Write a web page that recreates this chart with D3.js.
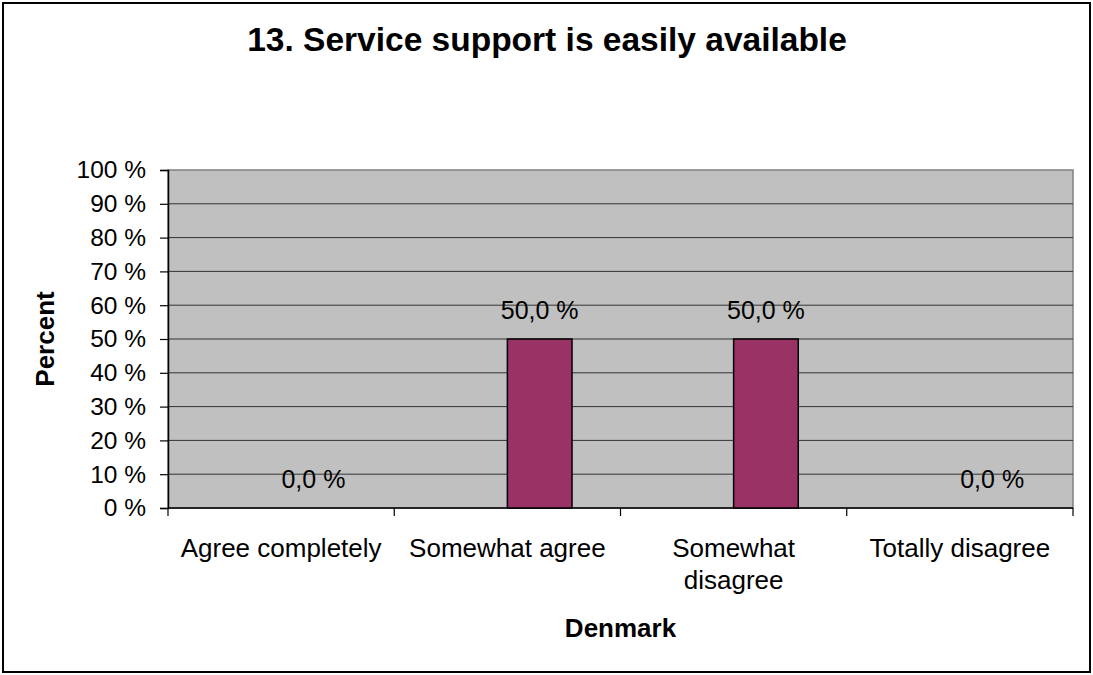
<!DOCTYPE html>
<html>
<head>
<meta charset="utf-8">
<script src="https://cdn.jsdelivr.net/npm/d3@7"></script>
<style>
  html, body { margin: 0; padding: 0; background: #fff; }
  svg { display: block; font-family: "Liberation Sans", Arial, sans-serif; }
</style>
</head>
<body>
<svg id="chart"></svg>
<script>
// Excel-style bar chart: Denmark answers

const width = 1093, height = 675;
const margin = { top: 170, right: 20, bottom: 167, left: 168 };
const innerWidth  = width  - margin.left - margin.right;
const innerHeight = height - margin.top  - margin.bottom;

const categories = ["Agree completely", "Somewhat agree", "Somewhat disagree", "Totally disagree"];
const categoryLines = [["Agree completely"], ["Somewhat agree"], ["Somewhat", "disagree"], ["Totally disagree"]];
// Two series slots, the first one is empty in the original workbook
const seriesNames = ["", "Denmark"];
const denmarkValues = [0, 50, 50, 0];
const yTicks = [0, 10, 20, 30, 40, 50, 60, 70, 80, 90, 100];

const title = "13. Service support is easily available";
const xTitle = "Denmark";
const yTitle = "Percent";

const svg = d3.select("#chart")
  .attr("width", width)
  .attr("height", height);

// outer frame
svg.append("rect")
  .attr("x", 3).attr("y", 3)
  .attr("width", width - 6).attr("height", height - 6)
  .attr("fill", "#fff")
  .attr("stroke", "#000")
  .attr("stroke-width", 2);

const g = svg.append("g")
  .attr("transform", `translate(${margin.left},${margin.top})`);

const x = d3.scaleBand()
  .domain(categories)
  .range([0, innerWidth])
  .padding(0);

const xs = d3.scaleBand()
  .domain(seriesNames)
  .range([0, x.bandwidth()])
  .paddingInner(0)
  .paddingOuter(0.75);

const y = d3.scaleLinear()
  .domain([0, 100])
  .range([innerHeight, 0]);

// plot area
g.append("rect")
  .attr("width", innerWidth)
  .attr("height", innerHeight)
  .attr("fill", "#c0c0c0")
  .attr("stroke", "#808080")
  .attr("stroke-width", 1.5);

// gridlines
g.selectAll(".grid")
  .data(yTicks.filter(d => d > 0 && d < 100))
  .join("line")
  .attr("x1", 0).attr("x2", innerWidth)
  .attr("y1", d => y(d)).attr("y2", d => y(d))
  .attr("stroke", "#333")
  .attr("stroke-width", 1);

// y axis
const yAxis = g.append("g")
  .call(d3.axisLeft(y).tickValues(yTicks).tickSize(8).tickPadding(14).tickFormat(d => d + " %"));
yAxis.select(".domain").attr("stroke", "#000").attr("stroke-width", 1.5);
yAxis.selectAll(".tick line").attr("stroke", "#000").attr("stroke-width", 1.2);
yAxis.selectAll("text")
  .attr("font-size", 24.5)
  .attr("font-family", "Liberation Sans, Arial, sans-serif")
  .attr("fill", "#000");

// x axis
const xAxisG = g.append("g").attr("transform", `translate(0,${innerHeight})`);
xAxisG.append("line")
  .attr("x1", 0).attr("x2", innerWidth)
  .attr("stroke", "#000").attr("stroke-width", 1.5);
const xTickPos = categories.map(c => x(c)).concat([innerWidth]);
xAxisG.selectAll(".xtick")
  .data(xTickPos)
  .join("line")
  .attr("x1", d => d).attr("x2", d => d)
  .attr("y1", 0).attr("y2", 8)
  .attr("stroke", "#000").attr("stroke-width", 1.2);

xAxisG.selectAll(".xlabel")
  .data(categories)
  .join("text")
  .attr("x", d => x(d) + x.bandwidth() / 2)
  .attr("y", 49)
  .attr("text-anchor", "middle")
  .attr("font-size", 26)
  .attr("fill", "#000")
  .each(function(d, i) {
    d3.select(this).selectAll("tspan")
      .data(categoryLines[i])
      .join("tspan")
      .attr("x", x(d) + x.bandwidth() / 2)
      .attr("dy", (t, j) => j === 0 ? 0 : 32)
      .text(t => t);
  });

// bars
g.selectAll(".bar")
  .data(denmarkValues)
  .join("rect")
  .attr("x", (d, i) => x(categories[i]) + xs("Denmark"))
  .attr("y", d => y(d))
  .attr("width", xs.bandwidth())
  .attr("height", d => innerHeight - y(d))
  .attr("fill", "#993366")
  .attr("stroke", "#000")
  .attr("stroke-width", 1.5);

// value labels
g.selectAll(".vlabel")
  .data(denmarkValues)
  .join("text")
  .attr("x", (d, i) => x(categories[i]) + xs("Denmark") + xs.bandwidth() / 2)
  .attr("y", d => y(d) - 20)
  .attr("text-anchor", "middle")
  .attr("font-size", 25)
  .attr("fill", "#000")
  .text(d => d.toFixed(1).replace(".", ",") + " %");

// titles
svg.append("text")
  .attr("x", 547).attr("y", 51)
  .attr("text-anchor", "middle")
  .attr("font-size", 33.5)
  .attr("font-weight", "bold")
  .text(title);

svg.append("text")
  .attr("x", margin.left + innerWidth / 2).attr("y", 637)
  .attr("text-anchor", "middle")
  .attr("font-size", 26)
  .attr("font-weight", "bold")
  .text(xTitle);

svg.append("text")
  .attr("transform", `translate(54,${margin.top + innerHeight / 2}) rotate(-90)`)
  .attr("text-anchor", "middle")
  .attr("font-size", 26)
  .attr("font-weight", "bold")
  .text(yTitle);
</script>
</body>
</html>
